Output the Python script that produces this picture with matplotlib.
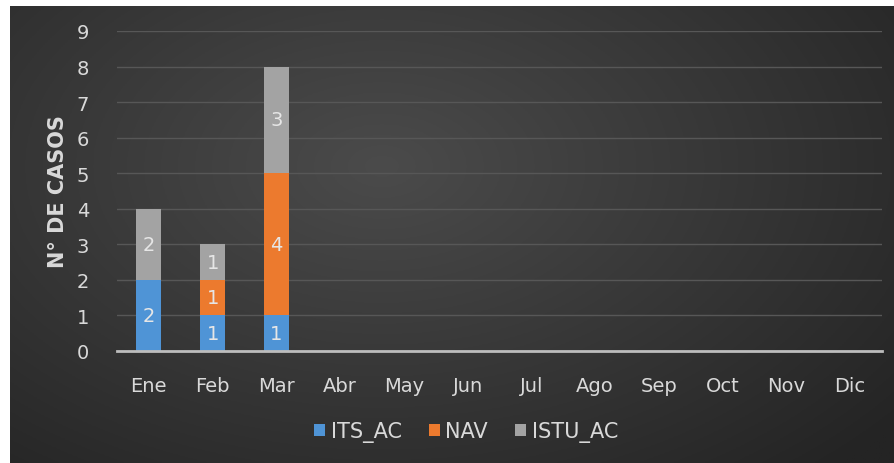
import numpy as np
import matplotlib
matplotlib.use("Agg")
import matplotlib.pyplot as plt
from matplotlib.patches import Patch

months = ["Ene", "Feb", "Mar", "Abr", "May", "Jun", "Jul", "Ago", "Sep", "Oct", "Nov", "Dic"]
its_ac = [2, 1, 1, 0, 0, 0, 0, 0, 0, 0, 0, 0]
nav = [0, 1, 4, 0, 0, 0, 0, 0, 0, 0, 0, 0]
istu_ac = [2, 1, 3, 0, 0, 0, 0, 0, 0, 0, 0, 0]
series_names = ["ITS_AC", "NAV", "ISTU_AC"]
colors = ["#4f94d6", "#ec7a2e", "#a3a3a3"]
yticks = list(range(0, 10))

plt.rcParams['font.family'] = ['DejaVu Sans']
W, H = 895, 464
fig = plt.figure(figsize=(W / 100, H / 100), dpi=100, facecolor="white")

# background gradient panel
bg = fig.add_axes([10 / W, 0, 885 / W, 457 / H])
bg.set_axis_off()
ny, nx = 200, 400
yy, xx = np.mgrid[0:1:ny * 1j, 0:1:nx * 1j]
r = np.sqrt(((xx - 0.42) / 0.75) ** 2 + ((yy - 0.35) / 0.9) ** 2)
r = np.clip(r, 0, 1)
light = np.array([0x4b, 0x4b, 0x4b]) / 255
dark = np.array([0x24, 0x24, 0x24]) / 255
img = light[None, None, :] * (1 - r[..., None]) + dark[None, None, :] * r[..., None]
bg.imshow(img, aspect="auto", extent=[0, 1, 0, 1], origin="upper")
bg.set_xlim(0, 1)
bg.set_ylim(0, 1)

ax = fig.add_axes([117 / W, 1 - 352 / H, 765 / W, (352 - 32) / H])
ax.patch.set_alpha(0)
x = np.arange(len(months))
bw = 0.39
bottom = np.zeros(len(months))
for vals, c in zip([its_ac, nav, istu_ac], colors):
    v = np.array(vals, dtype=float)
    ax.bar(x, v, bw, bottom=bottom, color=c, zorder=3)
    for xi, vi, bi in zip(x, v, bottom):
        if vi > 0:
            ax.text(xi, bi + vi / 2, f"{int(vi)}", ha="center", va="center",
                    color="#e6e6e6", fontsize=14, zorder=4)
    bottom += v

ax.set_xlim(-0.5, len(months) - 0.5)
ax.set_ylim(0, 9)
ax.set_yticks(yticks)
ax.set_xticks(x)
ax.set_xticklabels(months)
ax.tick_params(axis="both", length=0, colors="#d9d9d9", labelsize=14)
ax.tick_params(axis="x", pad=18)
ax.tick_params(axis="y", pad=20)
ax.grid(axis="y", color="#575757", linewidth=1, zorder=0)
for s in ["top", "right", "left"]:
    ax.spines[s].set_visible(False)
ax.spines["bottom"].set_color("#bdbdbd")
ax.spines["bottom"].set_linewidth(2)
ax.spines["bottom"].set_zorder(5)
ax.set_ylabel("N° DE CASOS", color="#d9d9d9", fontsize=15, fontweight="bold", labelpad=6)

handles = [Patch(facecolor=c, label=n) for c, n in zip(colors, series_names)]
fig.legend(handles=handles, loc="center", bbox_to_anchor=(466 / W, 1 - 433 / H), ncol=3,
           frameon=False, fontsize=15, labelcolor="#d9d9d9", handlelength=0.55, handleheight=0.55,
           handletextpad=0.25, columnspacing=1.3)

fig.savefig("out.png", dpi=100, facecolor="white")
